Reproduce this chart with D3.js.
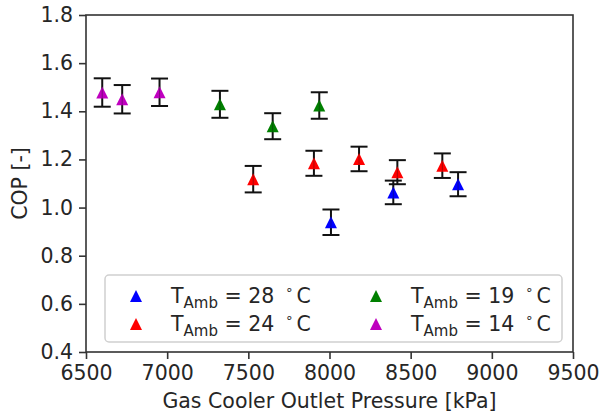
<!DOCTYPE html>
<html><head><meta charset="utf-8">
<script src="https://cdn.jsdelivr.net/npm/d3@7"></script>
<style>body{margin:0;background:#fff}svg{display:block}text{font-family:"DejaVu Sans",sans-serif;fill:#262626}</style>
</head><body><svg id="c" width="601" height="416"></svg>
<script>
// Data
const seriesNames = ["28", "24", "19", "14"];
const seriesColors = ["#0000ff", "#ff0000", "#008000", "#bf00bf"];
const pressure28 = [8009, 8393, 8792];
const cop28 = [0.939, 1.063, 1.097];
const err28 = [0.053, 0.049, 0.050];
const pressure24 = [7530, 7904, 8182, 8418, 8695];
const cop24 = [1.118, 1.184, 1.202, 1.147, 1.174];
const err24 = [0.055, 0.052, 0.051, 0.050, 0.051];
const pressure19 = [7325, 7650, 7937];
const cop19 = [1.429, 1.338, 1.424];
const err19 = [0.056, 0.054, 0.055];
const pressure14 = [6600, 6723, 6953];
const cop14 = [1.478, 1.450, 1.479];
const err14 = [0.059, 0.059, 0.057];
const xTicks = [6500, 7000, 7500, 8000, 8500, 9000, 9500];
const yTicks = [0.4, 0.6, 0.8, 1.0, 1.2, 1.4, 1.6, 1.8];

const series = [
  {name: seriesNames[0], color: seriesColors[0], x: pressure28, y: cop28, e: err28},
  {name: seriesNames[1], color: seriesColors[1], x: pressure24, y: cop24, e: err24},
  {name: seriesNames[2], color: seriesColors[2], x: pressure19, y: cop19, e: err19},
  {name: seriesNames[3], color: seriesColors[3], x: pressure14, y: cop14, e: err14}
];

const svg = d3.select("#c");
const m = {l: 86, r: 573, t: 15, b: 352};
const x = d3.scaleLinear().domain([6500, 9500]).range([m.l, m.r]);
const y = d3.scaleLinear().domain([0.4, 1.8]).range([m.b, m.t]);
const FS = 20.5;

// axes
const xAxis = svg.append("g").attr("transform", `translate(0,${m.b})`)
  .call(d3.axisBottom(x).tickValues(xTicks).tickFormat(d3.format("d")).tickSize(7).tickPadding(6));
const yAxis = svg.append("g").attr("transform", `translate(${m.l},0)`)
  .call(d3.axisLeft(y).tickValues(yTicks).tickFormat(d3.format(".1f")).tickSize(7).tickPadding(6));
[xAxis, yAxis].forEach(g => {
  g.select(".domain").remove();
  g.selectAll("line").attr("stroke", "#333").attr("stroke-width", 1.6);
  g.selectAll("text").attr("font-size", FS).attr("font-family", "DejaVu Sans").attr("fill", "#262626");
});
svg.append("rect").attr("x", m.l).attr("y", m.t).attr("width", m.r - m.l).attr("height", m.b - m.t)
  .attr("fill", "none").attr("stroke", "#333").attr("stroke-width", 1.6);

// labels
svg.append("text").attr("x", (m.l + m.r) / 2).attr("y", 408).attr("text-anchor", "middle")
  .attr("font-size", FS).text("Gas Cooler Outlet Pressure [kPa]");
svg.append("text").attr("transform", `translate(27,${(m.t + m.b) / 2}) rotate(-90)`)
  .attr("text-anchor", "middle").attr("font-size", FS).text("COP [-]");

const tri = (cx, cy, s) => `M${cx},${cy - s / 2}L${cx - s / 2},${cy + s / 2}L${cx + s / 2},${cy + s / 2}Z`;
const MS = 12, CAP = 8.5;

const plot = svg.append("g");
series.forEach(s => {
  const pts = s.x.map((px, i) => ({px, cop: s.y[i], e: s.e[i]}));
  const g = plot.append("g");
  const eb = g.selectAll("g.eb").data(pts).join("g").attr("class", "eb")
    .attr("stroke", "#111").attr("stroke-width", 2);
  eb.append("line").attr("x1", d => x(d.px)).attr("x2", d => x(d.px))
    .attr("y1", d => y(d.cop - d.e)).attr("y2", d => y(d.cop + d.e));
  eb.append("line").attr("x1", d => x(d.px) - CAP).attr("x2", d => x(d.px) + CAP)
    .attr("y1", d => y(d.cop + d.e)).attr("y2", d => y(d.cop + d.e));
  eb.append("line").attr("x1", d => x(d.px) - CAP).attr("x2", d => x(d.px) + CAP)
    .attr("y1", d => y(d.cop - d.e)).attr("y2", d => y(d.cop - d.e));
  g.selectAll("path.m").data(pts).join("path").attr("class", "m")
    .attr("d", d => tri(x(d.px), y(d.cop), MS)).attr("fill", s.color);
  g.selectAll("line.c").data(pts).join("line").attr("class", "c")
    .attr("x1", d => x(d.px)).attr("x2", d => x(d.px))
    .attr("y1", d => y(d.cop) - MS / 2).attr("y2", d => y(d.cop) + MS / 2)
    .attr("stroke", "#111").attr("stroke-width", 1).attr("stroke-opacity", 0.35);
});

// legend
const lg = svg.append("g");
lg.append("rect").attr("x", 105).attr("y", 275).attr("width", 457).attr("height", 67).attr("rx", 4)
  .attr("fill", "#fff").attr("fill-opacity", 0.8).attr("stroke", "#d0d0d0").attr("stroke-width", 1.5);
series.forEach((s, i) => {
  const col = Math.floor(i / 2), row = i % 2;
  const mx = 136 + col * 240, my = 296 + row * 28;
  lg.append("path").attr("d", tri(mx, my, MS)).attr("fill", s.color);
  const t = lg.append("text").attr("x", mx + 35).attr("y", my + 7).attr("font-size", FS);
  t.append("tspan").text("T");
  t.append("tspan").attr("font-size", 15).attr("dy", 5).text("Amb");
  t.append("tspan").attr("dy", -5).text(" = " + s.name);
  t.append("tspan").attr("font-size", 13).attr("dy", -9).attr("dx", 11).text("∘");
  t.append("tspan").attr("dy", 9).attr("dx", 3).text("C");
});
</script></body></html>
